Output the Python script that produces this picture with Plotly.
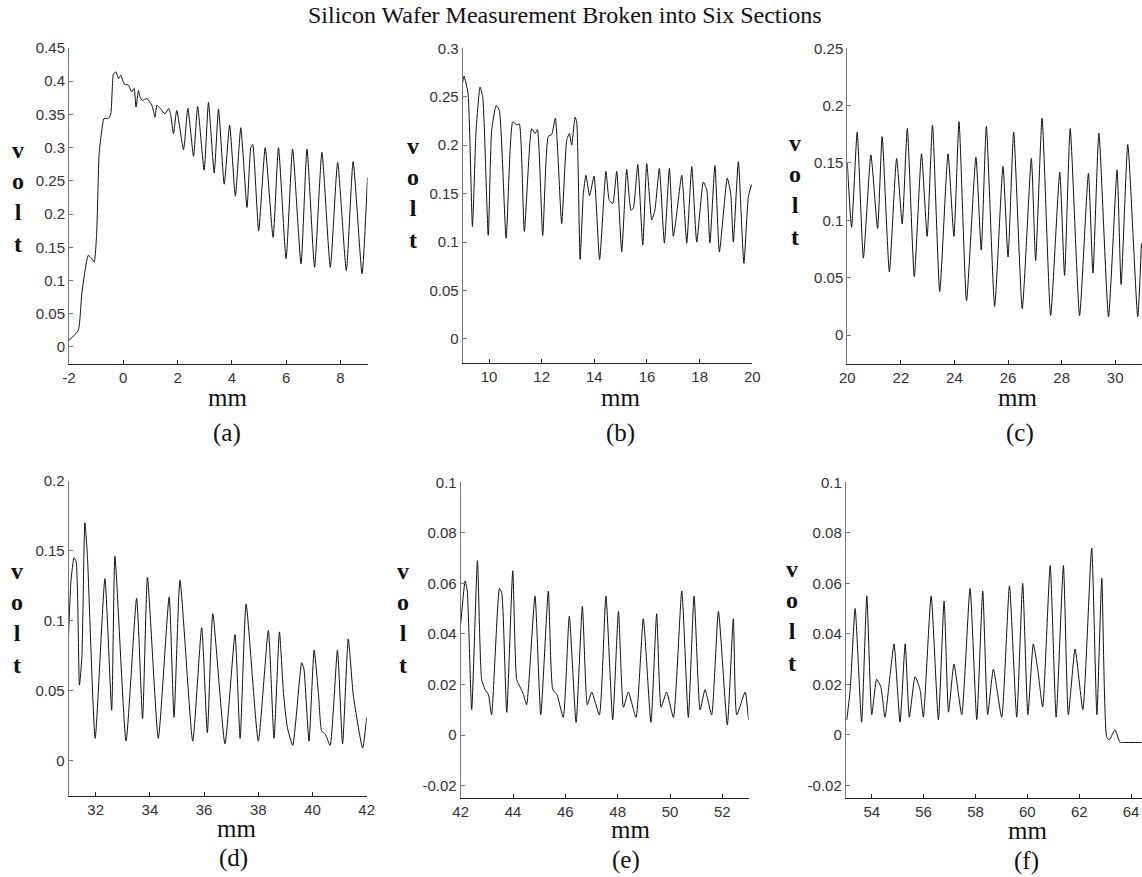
import plotly.graph_objects as go

# (a) -2 .. 9 mm
a_x = [-2.00, -1.66, -1.53, -1.37, -1.29, -1.16, -1.07, -0.98, -0.89, -0.79, -0.71, -0.55, -0.46, -0.36,
       -0.27, -0.18, -0.09, 0.03, 0.19, 0.31, 0.40, 0.47, 0.56, 0.62, 0.71, 0.87, 1.05, 1.17, 1.24, 1.36,
       1.54, 1.67, 1.75, 1.85, 1.97, 2.22, 2.38, 2.59, 2.74, 2.98, 3.14, 3.35, 3.51, 3.72, 3.92, 4.13,
       4.33, 4.56, 4.70, 4.77, 4.99, 5.23, 5.52, 5.72, 6.00, 6.24, 6.55, 6.77, 7.05, 7.32, 7.63, 7.90,
       8.22, 8.47, 8.80, 9.00]
a_y = [0.010, 0.025, 0.080, 0.125, 0.138, 0.133, 0.128, 0.171, 0.291, 0.326, 0.344, 0.344, 0.351, 0.411,
       0.414, 0.404, 0.409, 0.396, 0.394, 0.384, 0.389, 0.361, 0.386, 0.376, 0.371, 0.374, 0.364, 0.346,
       0.364, 0.359, 0.351, 0.359, 0.349, 0.321, 0.356, 0.297, 0.359, 0.287, 0.362, 0.266, 0.368, 0.262,
       0.358, 0.245, 0.334, 0.227, 0.330, 0.210, 0.300, 0.305, 0.175, 0.300, 0.165, 0.300, 0.133, 0.298,
       0.125, 0.298, 0.120, 0.293, 0.120, 0.278, 0.115, 0.279, 0.110, 0.255]

# (b) 9 .. 20 mm
b_x = [8.98, 9.05, 9.20, 9.37, 9.51, 9.66, 9.76, 9.97, 10.10, 10.27, 10.39, 10.65, 10.90, 11.05, 11.15,
       11.34, 11.62, 11.75, 11.84, 12.04, 12.25, 12.38, 12.52, 12.76, 12.95, 13.05, 13.14, 13.27, 13.33,
       13.46, 13.58, 13.68, 13.82, 13.99, 14.20, 14.44, 14.57, 14.70, 14.85, 15.04, 15.23, 15.39, 15.48,
       15.65, 15.84, 15.99, 16.18, 16.30, 16.47, 16.66, 16.85, 17.00, 17.10, 17.32, 17.51, 17.70, 17.89,
       18.14, 18.27, 18.39, 18.58, 18.75, 19.05, 19.18, 19.28, 19.47, 19.68, 19.85, 19.97]
b_y = [0.262, 0.271, 0.254, 0.116, 0.216, 0.260, 0.250, 0.107, 0.215, 0.241, 0.236, 0.104, 0.224, 0.221,
       0.222, 0.111, 0.217, 0.212, 0.216, 0.107, 0.209, 0.211, 0.228, 0.119, 0.205, 0.212, 0.200, 0.229,
       0.224, 0.082, 0.149, 0.169, 0.148, 0.168, 0.082, 0.173, 0.143, 0.140, 0.173, 0.090, 0.175, 0.133,
       0.135, 0.180, 0.097, 0.181, 0.123, 0.133, 0.176, 0.099, 0.176, 0.106, 0.123, 0.169, 0.099, 0.178,
       0.100, 0.162, 0.154, 0.099, 0.179, 0.090, 0.166, 0.150, 0.100, 0.183, 0.078, 0.147, 0.159]

# (c) 20 .. 31 mm
c_x = [20.00, 20.16, 20.37, 20.60, 20.88, 21.13, 21.30, 21.57, 21.84, 22.05, 22.24, 22.50, 22.77, 22.98,
       23.18, 23.45, 23.76, 23.98, 24.17, 24.45, 24.80, 25.00, 25.19, 25.50, 25.81, 26.00, 26.21, 26.53,
       26.87, 27.03, 27.27, 27.59, 27.93, 28.11, 28.32, 28.67, 29.00, 29.17, 29.39, 29.75, 30.07, 30.22,
       30.47, 30.84, 30.98]
c_y = [0.150, 0.094, 0.177, 0.067, 0.157, 0.093, 0.173, 0.055, 0.154, 0.097, 0.180, 0.051, 0.158, 0.086,
       0.183, 0.038, 0.158, 0.086, 0.186, 0.030, 0.155, 0.074, 0.182, 0.025, 0.147, 0.068, 0.177, 0.023,
       0.154, 0.065, 0.189, 0.017, 0.142, 0.052, 0.180, 0.017, 0.141, 0.054, 0.176, 0.016, 0.144, 0.044,
       0.166, 0.016, 0.080]

# (d) 31 .. 42 mm
d_x = [30.99, 31.09, 31.20, 31.28, 31.40, 31.49, 31.60, 31.69, 31.98, 32.34, 32.59, 32.71, 33.12, 33.51,
       33.73, 33.91, 34.31, 34.71, 34.89, 35.11, 35.58, 35.91, 36.12, 36.32, 36.77, 37.14, 37.33, 37.55,
       38.00, 38.37, 38.58, 38.78, 38.93, 39.07, 39.27, 39.60, 39.68, 39.87, 40.06, 40.22, 40.34, 40.47,
       40.65, 40.92, 41.11, 41.32, 41.51, 41.85, 42.00]
d_y = [0.086, 0.129, 0.145, 0.142, 0.054, 0.074, 0.170, 0.148, 0.016, 0.130, 0.036, 0.146, 0.014, 0.116,
       0.030, 0.131, 0.016, 0.117, 0.031, 0.129, 0.014, 0.095, 0.020, 0.105, 0.012, 0.090, 0.016, 0.112,
       0.014, 0.093, 0.016, 0.092, 0.048, 0.024, 0.011, 0.070, 0.066, 0.014, 0.079, 0.048, 0.021, 0.019,
       0.011, 0.079, 0.012, 0.087, 0.046, 0.009, 0.031]

# (e) 42 .. 53 mm
e_x = [42.00, 42.17, 42.25, 42.42, 42.64, 42.80, 42.93, 43.06, 43.18, 43.48, 43.57, 43.76, 43.99, 44.14,
       44.27, 44.40, 44.52, 44.84, 45.06, 45.35, 45.52, 45.68, 45.92, 46.15, 46.41, 46.65, 46.84, 47.01,
       47.30, 47.55, 47.81, 48.03, 48.22, 48.41, 48.70, 48.98, 49.27, 49.49, 49.66, 49.87, 50.13, 50.45,
       50.70, 50.92, 51.15, 51.34, 51.59, 51.85, 52.19, 52.42, 52.55, 52.87, 53.00]
e_y = [0.044, 0.061, 0.057, 0.010, 0.069, 0.022, 0.018, 0.016, 0.008, 0.058, 0.056, 0.009, 0.065, 0.022,
       0.019, 0.016, 0.012, 0.055, 0.008, 0.057, 0.018, 0.016, 0.007, 0.047, 0.005, 0.051, 0.012, 0.017,
       0.008, 0.055, 0.006, 0.049, 0.011, 0.017, 0.007, 0.046, 0.005, 0.048, 0.011, 0.017, 0.007, 0.057,
       0.007, 0.055, 0.010, 0.018, 0.008, 0.049, 0.004, 0.046, 0.008, 0.017, 0.006]

# (f) 53 .. 64.4 mm
f_x = [53.04, 53.17, 53.36, 53.61, 53.81, 54.00, 54.19, 54.35, 54.51, 54.71, 54.86, 55.09, 55.29, 55.45,
       55.67, 55.86, 55.99, 56.29, 56.57, 56.79, 56.96, 57.17, 57.47, 57.79, 58.05, 58.28, 58.47, 58.69,
       59.01, 59.31, 59.59, 59.82, 60.02, 60.23, 60.40, 60.59, 60.88, 61.11, 61.39, 61.58, 61.84, 62.14,
       62.48, 62.68, 62.87, 63.06, 63.16, 63.38, 63.57, 63.70, 64.40]
f_y = [0.006, 0.018, 0.050, 0.005, 0.055, 0.008, 0.022, 0.019, 0.007, 0.024, 0.036, 0.005, 0.036, 0.007,
       0.023, 0.018, 0.007, 0.055, 0.006, 0.053, 0.009, 0.028, 0.008, 0.058, 0.006, 0.057, 0.008, 0.026,
       0.007, 0.059, 0.007, 0.060, 0.008, 0.036, 0.026, 0.011, 0.067, 0.007, 0.067, 0.008, 0.034, 0.010,
       0.074, 0.008, 0.062, -0.001, -0.002, 0.002, -0.003, -0.003, -0.003]

# tick values / labels
a_xt = [-2, 0, 2, 4, 6, 8]
b_xt = [10, 12, 14, 16, 18, 20]
c_xt = [20, 22, 24, 26, 28, 30]
d_xt = [32, 34, 36, 38, 40, 42]
e_xt = [42, 44, 46, 48, 50, 52]
f_xt = [54, 56, 58, 60, 62, 64]
a_yt = [0, 0.05, 0.1, 0.15, 0.2, 0.25, 0.3, 0.35, 0.4, 0.45]
b_yt = [0, 0.05, 0.1, 0.15, 0.2, 0.25, 0.3]
c_yt = [0, 0.05, 0.1, 0.15, 0.2, 0.25]
d_yt = [0, 0.05, 0.1, 0.15, 0.2]
e_yt = [-0.02, 0, 0.02, 0.04, 0.06, 0.08, 0.1]
f_yt = [-0.02, 0, 0.02, 0.04, 0.06, 0.08, 0.1]

title = "Silicon Wafer Measurement Broken into Six Sections"
letters = ["(a)", "(b)", "(c)", "(d)", "(e)", "(f)"]

W, H = 1142, 877

def lbl(v):
    return ("%g" % v)

# layout of the six panels in pixels: x0, x1, ytop, ybottom, xrange, yrange,
# ylabel centre, mm centre, letter centre
panels = [
    dict(x=a_x, y=a_y, xt=a_xt, yt=a_yt, px=(69, 367.5), py=(48, 363.6), xr=[-2, 9], yr=[-0.025, 0.45],
         vl=(18, 197), mm=(227, 397), let=(227, 433)),
    dict(x=b_x, y=b_y, xt=b_xt, yt=b_yt, px=(462.7, 752.3), py=(48.3, 363.2), xr=[9, 20], yr=[-0.025, 0.3],
         vl=(413, 193), mm=(620, 397), let=(620, 433)),
    dict(x=c_x, y=c_y, xt=c_xt, yt=c_yt, px=(847.3, 1142), py=(48.3, 363.7), xr=[20, 31], yr=[-0.025, 0.25],
         vl=(795, 190), mm=(1017, 397), let=(1020, 433)),
    dict(x=d_x, y=d_y, xt=d_xt, yt=d_yt, px=(68.6, 366.7), py=(480.7, 795.7), xr=[31, 42], yr=[-0.025, 0.2],
         vl=(17, 618), mm=(236, 828), let=(233, 858)),
    dict(x=e_x, y=e_y, xt=e_xt, yt=e_yt, px=(460.7, 748.5), py=(482.3, 798.3), xr=[42, 53], yr=[-0.025, 0.1],
         vl=(403, 618), mm=(630, 829), let=(626, 860)),
    dict(x=f_x, y=f_y, xt=f_xt, yt=f_yt, px=(845.8, 1142), py=(482.3, 798), xr=[53, 64.42], yr=[-0.025, 0.1],
         vl=(792, 616), mm=(1027, 830), let=(1026, 861)),
]

serif = "Liberation Serif, Times New Roman, serif"
sans = "Liberation Sans, Arial, sans-serif"

fig = go.Figure()
annotations = []
layout = {}
for i, p in enumerate(panels):
    n = "" if i == 0 else str(i + 1)
    fig.add_trace(go.Scatter(x=p["x"], y=p["y"], mode="lines", xaxis="x" + n, yaxis="y" + n,
                             line=dict(color="#111111", width=1, shape="spline", smoothing=0.5),
                             showlegend=False, hoverinfo="skip"))
    common = dict(showgrid=False, zeroline=False, showline=True, ticks="inside", ticklen=4,
                  automargin=False, tickfont=dict(family=sans, size=15, color="#333333"))
    layout["xaxis" + n] = dict(common, domain=[p["px"][0] / W, p["px"][1] / W], range=p["xr"],
                               anchor="y" + n, tickvals=p["xt"], ticktext=[lbl(v) for v in p["xt"]],
                               linecolor="#222222", tickcolor="#222222")
    layout["yaxis" + n] = dict(common, domain=[1 - p["py"][1] / H, 1 - p["py"][0] / H], range=p["yr"],
                               anchor="x" + n, tickvals=p["yt"], ticktext=[lbl(v) for v in p["yt"]],
                               linecolor="#777777", tickcolor="#777777")
    annotations.append(dict(text="<b>v<br>o<br>l<br>t</b>", x=p["vl"][0] / W, y=1 - p["vl"][1] / H,
                            font=dict(family=serif, size=24, color="#111111")))
    annotations.append(dict(text="mm", x=p["mm"][0] / W, y=1 - p["mm"][1] / H,
                            font=dict(family=serif, size=25, color="#111111")))
    annotations.append(dict(text=letters[i], x=p["let"][0] / W, y=1 - p["let"][1] / H,
                            font=dict(family=serif, size=25, color="#111111")))

annotations.append(dict(text=title, x=564.5 / W, y=1 - 15 / H,
                        font=dict(family=serif, size=24, color="#111111")))
for a in annotations:
    a.update(xref="paper", yref="paper", showarrow=False, xanchor="center", yanchor="middle")

fig.update_layout(width=W, height=H, margin=dict(l=0, r=0, t=0, b=0, autoexpand=False),
                  paper_bgcolor="white", plot_bgcolor="white",
                  annotations=annotations, **layout)

# page body margin would push the figure 8px right/down
fig.write_html("out.html", config={"displayModeBar": False},
               post_script="document.body.style.margin='0px';")
